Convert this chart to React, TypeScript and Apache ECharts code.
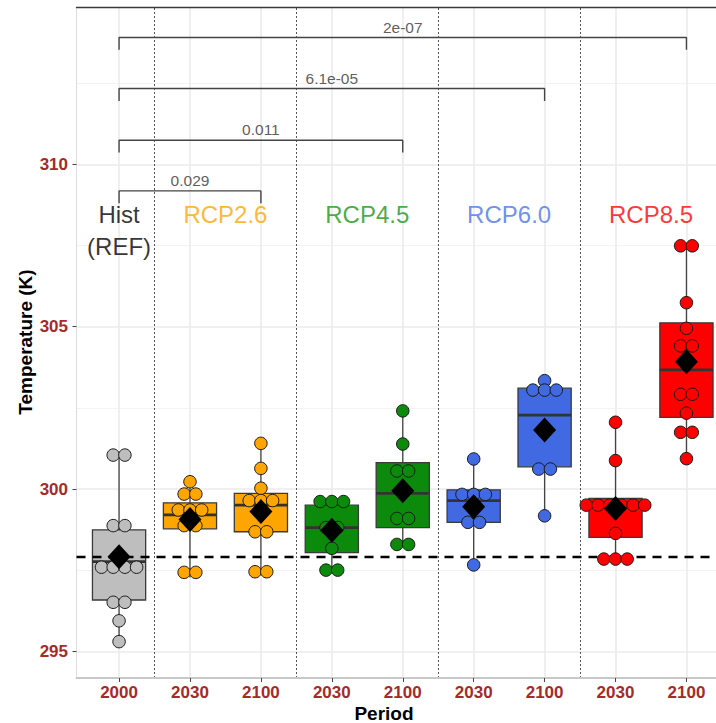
import React, { useEffect, useRef } from "react";
import * as echarts from "echarts";

// ---------- data ----------
const categories = ["2000", "2030", "2100", "2030", "2100", "2030", "2100", "2030", "2100"];
const catScenario = [0, 1, 1, 2, 2, 3, 3, 4, 4];
const scenarioNames = ["Hist\n(REF)", "RCP2.6", "RCP4.5", "RCP6.0", "RCP8.5"];
const scenarioLabelX = [1, 2.5, 4.5, 6.5, 8.5];
const scenarioLabelY = [307.95, 308.44, 308.44, 308.44, 308.44];

const hist2000 = [301.05, 301.05, 298.88, 298.88, 297.6, 297.6, 297.6, 297.6, 296.52, 296.52, 295.95, 295.31];
const rcp26_2030 = [300.23, 299.85, 299.85, 299.36, 299.36, 299.36, 298.88, 298.88, 297.44, 297.44];
const rcp26_2100 = [301.41, 300.64, 300.03, 299.65, 299.65, 299.65, 298.69, 298.69, 297.46, 297.46];
const rcp45_2030 = [299.62, 299.62, 299.62, 298.82, 298.82, 298.18, 297.51, 297.51];
const rcp45_2100 = [302.41, 301.39, 300.56, 300.56, 299.1, 299.1, 298.3, 298.3];
const rcp60_2030 = [300.93, 299.84, 299.84, 299.84, 298.98, 298.98, 297.67];
const rcp60_2100 = [303.34, 303.05, 303.05, 303.05, 300.62, 300.62, 299.18];
const rcp85_2030 = [302.06, 300.88, 299.51, 299.51, 299.51, 299.51, 299.51, 299.51, 298.64, 297.85, 297.85, 297.85];
const rcp85_2100 = [307.49, 307.49, 305.74, 304.95, 304.41, 304.41, 302.92, 302.92, 302.34, 301.75, 301.75, 300.94];
const pointsByCategory = [hist2000, rcp26_2030, rcp26_2100, rcp45_2030, rcp45_2100, rcp60_2030, rcp60_2100, rcp85_2030, rcp85_2100];

// box stats: [lower whisker, Q1, median, Q3, upper whisker]
const boxStats = [
  [295.31, 296.59, 297.77, 298.75, 301.05],
  [297.28, 298.78, 299.21, 299.58, 300.23],
  [297.46, 298.69, 299.51, 299.87, 301.41],
  [297.51, 298.05, 298.82, 299.51, 299.62],
  [298.3, 298.82, 299.87, 300.82, 302.41],
  [297.67, 298.98, 299.65, 299.98, 300.93],
  [299.18, 300.69, 302.28, 303.11, 303.34],
  [297.85, 298.52, 299.51, 299.72, 302.06],
  [300.94, 302.21, 303.67, 305.12, 307.49],
];
const means = [297.92, 299.07, 299.31, 298.74, 299.95, 299.46, 301.82, 299.41, 303.92];

// significance brackets
const bracketFrom = [1, 1, 1, 1];
const bracketTo = [3, 5, 7, 9];
const bracketY = [309.18, 310.74, 312.33, 313.9];
const bracketLabels = ["0.029", "0.011", "6.1e-05", "2e-07"];

const yTicks = [295, 300, 305, 310];
const yMinorLines = [297.5, 302.5, 307.5, 312.5];
const groupSeparators = [1.5, 3.5, 5.5, 7.5];

// ---------- styles ----------
const scenarioColors = ["#BEBEBE", "#FFA500", "#0C8A0C", "#4169E1", "#FF0000"];
const labelColors = ["#000000", "#FFA500", "#1A961A", "#4A74E6", "#FF0000"];
const FONT = "'Liberation Sans', Arial, sans-serif";
const DOT_STEP = 11.7;
const BOX_WIDTH = 0.75;
const TIP = 0.38;

export default function App() {
  const ref = useRef<HTMLDivElement>(null);

  useEffect(() => {
    document.body.style.margin = "0";
    document.body.style.overflow = "hidden";
    document.documentElement.style.overflow = "hidden";
    const chart = echarts.init(ref.current!, null, { renderer: "svg" });

    const catValues = categories.map((_, i) => i + 1);

    // dot-plot points, stacked horizontally when values coincide
    const pointData: any[] = [];
    pointsByCategory.forEach((vals, ci) => {
      const counts: Record<string, number> = {};
      vals.forEach((v) => (counts[v] = (counts[v] || 0) + 1));
      const seen: Record<string, number> = {};
      vals.forEach((v) => {
        const n = counts[v];
        const k = seen[v] || 0;
        seen[v] = k + 1;
        pointData.push({
          value: [ci + 1, v],
          symbolOffset: [(k - (n - 1) / 2) * DOT_STEP, 0],
          itemStyle: { color: scenarioColors[catScenario[ci]] },
        });
      });
    });

    const bracketSeries = bracketFrom.map((from, i) => ({
      type: "line",
      data: [
        [from, bracketY[i] - TIP],
        [from, bracketY[i]],
        [bracketTo[i], bracketY[i]],
        [bracketTo[i], bracketY[i] - TIP],
      ],
      symbol: "none",
      lineStyle: { color: "#444", width: 1.4 },
      silent: true,
      z: 3,
    }));

    const option: any = {
      animation: false,
      backgroundColor: "#FFFFFF",
      grid: { left: 76.5, top: 7.3, right: 0, bottom: 45 },
      xAxis: [
        {
          type: "value",
          min: 0.4,
          max: 9.6,
          position: "bottom",
          axisLine: { show: true, onZero: false, lineStyle: { color: "#C8C8C8", width: 2 } },
          axisTick: { show: true, customValues: catValues, length: 4, lineStyle: { color: "#444" } },
          axisLabel: {
            customValues: catValues,
            formatter: (v: number) => categories[Math.round(v) - 1],
            color: "#A52A2A",
            fontWeight: "bold",
            fontSize: 17,
            fontFamily: FONT,
            margin: 6,
          },
          splitLine: { show: false },
        },
        {
          type: "value",
          min: 0.4,
          max: 9.6,
          position: "top",
          axisLine: { show: true, onZero: false, lineStyle: { color: "#3a3a3a", width: 1.3 } },
          axisTick: { show: false },
          axisLabel: { show: false },
          splitLine: { show: false },
        },
      ],
      yAxis: {
        type: "value",
        min: 294.19,
        max: 314.83,
        axisLine: { show: true, onZero: false, lineStyle: { color: "#DDDDDD", width: 1 } },
        axisTick: { show: true, customValues: yTicks, length: 4, lineStyle: { color: "#444" } },
        axisLabel: {
          customValues: yTicks,
          color: "#A52A2A",
          fontWeight: "bold",
          fontSize: 17,
          fontFamily: FONT,
          margin: 8.5,
        },
        splitLine: { show: false },
      },
      graphic: [
        {
          type: "text",
          x: 25,
          y: 342,
          rotation: Math.PI / 2,
          style: {
            text: "Temperature (K)",
            fill: "#000",
            font: `bold 19px ${FONT}`,
            align: "center",
            verticalAlign: "middle",
          },
        },
        {
          type: "text",
          x: 384,
          y: 713,
          style: {
            text: "Period",
            fill: "#000",
            font: `bold 19px ${FONT}`,
            align: "center",
            verticalAlign: "middle",
          },
        },
      ],
      series: [
        // grid lines
        {
          type: "line",
          data: [],
          silent: true,
          z: 0,
          markLine: {
            z: 0,
            silent: true,
            symbol: ["none", "none"],
            label: { show: false },
            animation: false,
            data: [
              ...yMinorLines.map((v) => ({ yAxis: v, lineStyle: { color: "#F3F3F3", width: 1, type: "solid" } })),
              ...yTicks.map((v) => ({ yAxis: v, lineStyle: { color: "#EBEBEB", width: 1.6, type: "solid" } })),
              ...catValues.map((v) => ({ xAxis: v, lineStyle: { color: "#EBEBEB", width: 1.6, type: "solid" } })),
              ...groupSeparators.map((v) => ({ xAxis: v, lineStyle: { color: "#555", width: 1, type: [2, 2] } })),
            ],
          },
        },
        // boxes
        {
          type: "custom",
          z: 2,
          data: boxStats.map((b, i) => [i + 1, ...b]),
          encode: { x: 0, y: [1, 2, 3, 4, 5] },
          renderItem: (params: any, api: any) => {
            const x = api.value(0);
            const low = api.coord([x, api.value(1)]);
            const q1 = api.coord([x, api.value(2)]);
            const med = api.coord([x, api.value(3)]);
            const q3 = api.coord([x, api.value(4)]);
            const high = api.coord([x, api.value(5)]);
            const w = api.size([BOX_WIDTH, 0])[0];
            const color = scenarioColors[catScenario[params.dataIndex]];
            return {
              type: "group",
              children: [
                { type: "line", shape: { x1: low[0], y1: low[1], x2: q1[0], y2: q1[1] }, style: { stroke: "#444", lineWidth: 1.3 } },
                { type: "line", shape: { x1: q3[0], y1: q3[1], x2: high[0], y2: high[1] }, style: { stroke: "#444", lineWidth: 1.3 } },
                {
                  type: "rect",
                  shape: { x: q3[0] - w / 2, y: q3[1], width: w, height: q1[1] - q3[1] },
                  style: { fill: color, stroke: "#3a3a3a", lineWidth: 1.3 },
                },
                {
                  type: "line",
                  shape: { x1: med[0] - w / 2, y1: med[1], x2: med[0] + w / 2, y2: med[1] },
                  style: { stroke: "#333", lineWidth: 2.8 },
                },
              ],
            };
          },
        },
        // reference (historical mean) dashed line
        {
          type: "line",
          data: [],
          silent: true,
          z: 3,
          markLine: {
            z: 3,
            silent: true,
            symbol: ["none", "none"],
            label: { show: false },
            animation: false,
            data: [{ yAxis: means[0], lineStyle: { color: "#000", width: 2.4, type: [9, 7] } }],
          },
        },
        ...bracketSeries,
        // bracket labels
        {
          type: "scatter",
          symbolSize: 0,
          silent: true,
          z: 3,
          data: bracketFrom.map((from, i) => [(from + bracketTo[i]) / 2, bracketY[i]]),
          label: {
            show: true,
            position: "top",
            distance: 2.5,
            formatter: (p: any) => bracketLabels[p.dataIndex],
            color: "#333",
            fontSize: 15.5,
            fontFamily: FONT,
          },
        },
        // dot plot
        {
          type: "scatter",
          z: 4,
          symbol: "circle",
          symbolSize: 12.5,
          data: pointData,
          itemStyle: { borderColor: "#1a1a1a", borderWidth: 1, opacity: 1 },
        },
        // means
        {
          type: "scatter",
          z: 5,
          symbol: "diamond",
          symbolSize: [23, 25],
          data: means.map((m, i) => [i + 1, m]),
          itemStyle: { color: "#000", opacity: 1 },
        },
        // scenario labels
        {
          type: "scatter",
          symbolSize: 0,
          silent: true,
          z: 6,
          data: scenarioNames.map((name, i) => ({
            value: [scenarioLabelX[i], scenarioLabelY[i]],
            label: { color: labelColors[i] },
          })),
          label: {
            show: true,
            position: "inside",
            formatter: (p: any) => scenarioNames[p.dataIndex],
            fontSize: 24,
            lineHeight: 32,
            fontFamily: FONT,
            align: "center",
            verticalAlign: "middle",
          },
        },
      ],
    };

    chart.setOption(option);
    return () => chart.dispose();
  }, []);

  return <div ref={ref} style={{ width: 729, height: 723 }} />;
}
